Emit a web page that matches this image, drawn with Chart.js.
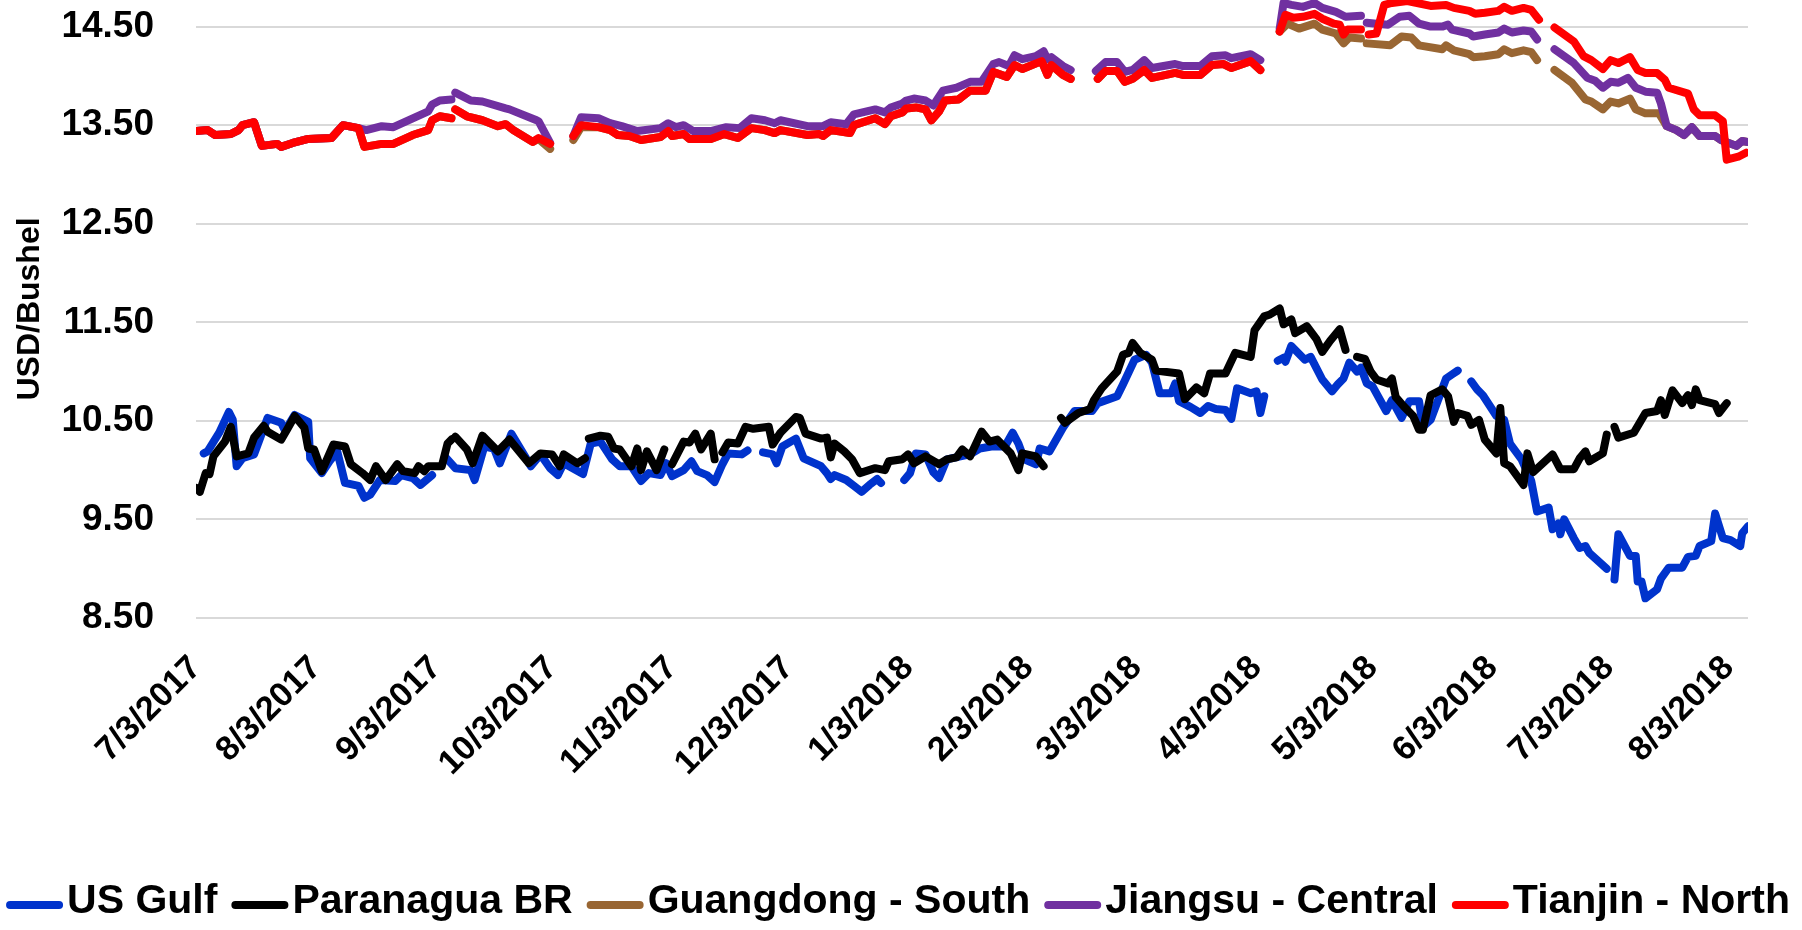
<!DOCTYPE html>
<html>
<head>
<meta charset="utf-8">
<script src="https://cdn.jsdelivr.net/npm/chart.js"></script>
<style>
html,body{margin:0;padding:0;background:#fff;overflow:hidden;}
canvas{display:block;}
</style>
</head>
<body>
<canvas id="c" width="1802" height="930"></canvas>
<script>
// x values are days since 7/3/2017; null marks a gap in the series
const tickDays = [0,31,62,92,123,153,184,215,243,274,304,335,365,396];
const tickLabels = ['7/3/2017','8/3/2017','9/3/2017','10/3/2017','11/3/2017','12/3/2017','1/3/2018','2/3/2018','3/3/2018','4/3/2018','5/3/2018','6/3/2018','7/3/2018','8/3/2018'];
const yTicks = [8.5,9.5,10.5,11.5,12.5,13.5,14.5];

const usGulfDays = [
 2,3,6,8.5,9.5,10.5,12,15,18.5,22,
 23,25.5,29,29.5,32.5,34.5,36.5,38.5,42,43.5,
 45,47.5,51.5,53,56,58,61,63,64.5,67,
 71,72,74.5,77,78.5,81.5,85,86.5,89,91.5,
 93.5,95,100,102,104.5,107.5,109.5,112.5,115,117,
 120,121.5,123,126,128,129.5,132,134,136,137.5,
 141,142.5,144.5,146.5,149,150,151.5,155,157,161.5,
 163,164,165,168,170,172,174,176,177,180,
 183,184.5,186,188.5,190.5,192,194,197.5,200,202.5,
 205.5,209,211,212.5,214,217,218,220.5,224,227,
 231.5,233,238,239.5,242.5,245.5,247,249,252,253,
 254,257,259.5,261.5,263.5,266,267.5,269,272.5,274,
 275,276,277.5,279.5,281,281.5,283,286.5,288,291,
 293.5,295,296.5,298,300,301,302.5,304,307.5,309,
 311.5,313.5,316,317,319,323,324.5,326,327.5,329.5,
 331,332.5,336,338,339.5,342.5,345,346.5,349.5,350.5,
 352,352.5,353.5,356,357.5,359,360,364.5,365.5,366.5,
 367.5,370.5,372,372.5,373.5,374.5,377.5,378.5,380.5,384,
 385.5,387.5,388.5,391.5,392.5,394.5,396.5,399,399.5,401];
const usGulfValues = [
 10.17,10.19,10.38,10.59,10.51,10.04,10.12,10.16,10.53,10.48,
 10.40,10.56,10.49,10.12,9.97,10.09,10.19,9.87,9.84,9.72,
 9.75,9.90,9.89,9.95,9.92,9.85,9.95,null,10.13,10.02,
 10.00,9.90,10.24,10.22,10.07,10.37,10.14,10.04,10.16,10.02,
 9.95,10.07,9.96,10.27,10.29,10.11,10.04,10.04,9.89,9.97,
 9.95,10.07,9.94,10.00,10.09,9.99,9.95,9.88,10.06,10.17,
 10.16,10.20,null,10.18,10.16,10.07,10.24,10.32,10.12,10.04,
 9.97,9.91,9.95,9.90,9.84,9.78,9.85,9.91,9.87,null,
 9.90,9.97,10.17,10.16,9.98,9.92,10.11,10.14,10.16,10.22,
 10.24,10.24,10.38,10.27,10.11,10.06,10.22,10.19,10.43,10.60,
 10.60,10.68,10.75,10.87,11.12,11.17,11.09,10.78,10.78,10.88,
 10.70,10.64,10.58,10.65,10.62,10.61,10.52,10.83,10.78,10.80,
 10.58,10.75,null,11.11,11.14,11.10,11.26,11.12,11.15,10.92,
 10.80,10.87,10.93,11.09,11.00,11.04,10.88,10.85,10.60,10.71,
 10.53,10.70,10.70,10.44,10.51,10.93,10.97,11.01,null,10.90,
 10.82,10.76,10.55,10.51,10.27,10.11,9.89,9.58,9.62,9.40,
 9.46,9.35,9.50,9.31,9.21,9.23,9.16,9.00,null,8.89,
 9.35,9.13,9.13,8.87,8.87,8.70,8.79,8.90,9.01,9.01,
 9.12,9.13,9.23,9.28,9.56,9.31,9.29,9.23,9.36,9.43];

const paranaguaDays = [
 0,1,2.5,3.5,4.5,7.5,9,10.5,13.5,15,
 17.5,18.5,22,23.5,25.5,28,29,30.5,32.5,35.5,
 38.5,40,43,45,46.5,49,52,53.5,56.5,57.5,
 59,60,63.5,65,66,66.5,67,70,71.5,74,
 78,81,86,89,92,94,95,98.5,100.5,101,
 101.5,104.5,106.5,108,109.5,112.5,114,115,116.5,119,
 121,122,123,126,127.5,129,130.5,133,134,135,
 136,137.5,140,142,144,148,149,151,155,156,
 157.5,161.5,163,164,165,167.5,169.5,171.5,175.5,178,
 179,182.5,184,185.5,188.5,192,194,196.5,198,200,
 203,205,207,210.5,212.5,213.5,217,219,221,223.5,
 224.5,228,231,232,234,238,239.5,241,242,244,
 247,248,254,255.5,258.5,260.5,262,266,268.5,272.5,
 273.5,276,277.5,280,281,283,284,287,289.5,291,
 293,295.5,297,298.5,300,302,303.5,305,308,309,
 310,312,314.5,316,317,319,322,323.5,325,326,
 328.5,329.5,331.5,333,336,337,338,339.5,343,344,
 345.5,350.5,352.5,356,357.5,359,360,363.5,364.5,365.5,
 366.5,367.5,371.5,374.5,377.5,378.5,379.5,381.5,384,385.5,
 386.5,387.5,388.5,392.5,393.5,394.5,395.5];
const paranaguaValues = [
 9.82,9.78,9.97,9.96,10.14,10.29,10.44,10.14,10.17,10.33,
 10.45,10.39,10.31,10.41,10.55,10.43,10.22,10.21,9.99,10.26,
 10.24,10.06,9.97,9.90,10.04,9.90,10.06,9.99,9.97,10.04,
 9.99,10.04,10.04,10.27,10.31,null,10.34,10.21,10.07,10.35,
 10.19,10.31,10.07,10.17,10.16,10.04,10.16,10.07,10.12,null,
 10.32,10.35,10.34,10.22,10.21,10.04,10.22,10.00,10.19,10.00,
 10.21,null,10.06,10.29,10.28,10.37,10.21,10.37,10.11,null,
 10.18,10.28,10.27,10.44,10.42,10.44,10.26,10.38,10.54,10.53,
 10.37,10.32,10.33,10.13,10.27,10.19,10.11,9.97,10.02,10.00,
 10.09,10.11,10.16,10.07,10.14,10.06,10.11,10.13,10.21,10.14,
 10.39,10.29,10.31,10.17,10.00,10.17,10.14,10.04,null,10.53,
 10.48,10.58,10.62,10.71,10.83,11.00,11.17,11.19,11.29,11.19,
 11.12,11.01,10.98,10.72,10.84,10.78,10.98,10.98,11.19,11.15,
 11.42,11.56,11.58,11.64,11.48,11.53,11.39,11.46,11.33,11.20,
 11.31,11.43,11.22,null,11.15,11.13,11.00,10.92,10.88,10.93,
 10.74,10.65,10.55,10.41,10.41,10.76,10.82,10.75,10.49,10.58,
 10.55,10.46,10.51,10.31,10.17,10.63,10.07,10.04,9.85,10.17,
 9.98,10.16,10.01,10.01,10.12,10.19,10.09,10.17,10.36,null,
 10.44,10.33,10.38,10.58,10.60,10.71,10.56,10.81,10.68,10.76,
 10.66,10.82,10.71,10.67,10.58,10.63,10.68];

const guangdongDays = [
 0,3,5,9,11,12,15,17,21,22,
 25,29,35,38,42,43.5,48,51,56,60,
 61,63,66,66.5,67,70,74,78,80,82,
 87,88.5,91.5,94,97.5,99.5,104,107,109,112,
 115,120,122,123,126,127.5,133,136.5,140,143.5,
 147,149.5,151,158,161,162,164,169,170,175.5,
 178,179.5,182.5,183.5,186,188.5,190,192,193.5,197,
 200,204,206,209.5,211.5,213.5,218.5,220,221,224,
 226,229,233,235,238,240,242,245,247,253,
 255,259.5,262.5,265.5,267.5,272.5,275,277,280,282,
 285,289,291,294.5,296.5,298,301,302,302.5,308.5,
 311.5,314,316,322,323,325,329,330,333,336.5,
 338,340,343,345,346.5,349,351,355.5,359,360.5,
 363.5,365.5,367.5,370.5,372,374.5,378,380,382.5,384.5,
 386.5,388.5,392.5,394,398,399.5,401];
const guangdongValues = [
 13.44,13.45,13.40,13.41,13.45,13.50,13.53,13.29,13.31,13.28,
 13.32,13.36,13.37,13.50,13.47,13.28,13.31,13.31,13.40,13.45,
 13.55,13.59,13.57,null,13.66,13.59,13.55,13.49,13.51,13.45,
 13.33,13.36,13.26,null,13.35,13.48,13.48,13.45,13.40,13.39,
 13.35,13.38,13.44,13.39,13.41,13.36,13.36,13.41,13.37,13.47,
 13.45,13.42,13.45,13.40,13.41,13.39,13.45,13.42,13.50,13.57,
 13.51,13.59,13.63,13.67,13.68,13.66,13.55,13.64,13.75,13.76,
 13.85,13.85,14.04,13.99,14.11,14.07,14.15,14.01,14.11,14.01,
 13.97,null,13.97,14.05,14.05,13.94,13.97,14.06,13.98,14.03,
 14.01,14.01,14.11,14.12,14.08,14.15,14.06,null,14.45,14.53,
 14.48,14.53,14.47,14.43,14.33,14.39,14.38,null,14.33,14.31,
 14.40,14.39,14.31,14.27,14.31,14.26,14.22,14.19,14.20,14.22,
 14.27,14.23,14.26,14.24,14.16,null,14.06,13.93,13.76,13.74,
 13.66,13.74,13.72,13.77,13.66,13.62,13.62,13.49,13.45,13.40,
 13.48,13.39,13.39,13.35,13.29,13.34,13.33];

const jiangsuDays = [
 0,3,5,9,11,12,15,17,21,22,
 25,29,35,38,42,44,48,51,56,60,
 61,63,66,66.5,67,71,74,80,81,88,
 88.5,91.5,94,97.5,99.5,104,107,110,114,120,
 122,124,126,128.5,133,137,140.5,143.5,147,149.5,
 151,158,162,164,168,170,175.5,178,179.5,182.5,
 183.5,185.5,188.5,190.5,193,196.5,200,203,206,207.5,
 210,211.5,213.5,217,219,220,221,224,226,229,
 232.5,235,238,240,242,245,247,253,255,259.5,
 262.5,266,267.5,272.5,275,277,280,281,283,286,
 289,291,294.5,297,301,302,302.5,305,308,311,
 313.5,316,319,322,323.5,324.5,329,330,333,336.5,
 338,340,343,345,346.5,349,351,356,359.5,361.5,
 363.5,365.5,367.5,370,372,374.5,377.5,378.5,380,382.5,
 384.5,386.5,388.5,392.5,394,398,399.5,401];
const jiangsuValues = [
 13.44,13.45,13.40,13.41,13.45,13.50,13.53,13.29,13.31,13.28,
 13.32,13.36,13.37,13.50,13.47,13.45,13.49,13.48,13.57,13.64,
 13.71,13.75,13.76,null,13.83,13.75,13.74,13.67,13.66,13.55,
 13.54,13.32,null,13.39,13.58,13.57,13.52,13.49,13.44,13.47,
 13.52,13.48,13.50,13.44,13.44,13.48,13.47,13.57,13.55,13.52,
 13.55,13.49,13.49,13.53,13.51,13.61,13.66,13.63,13.68,13.72,
 13.75,13.77,13.75,13.70,13.85,13.88,13.94,13.94,14.12,14.14,
 14.10,14.21,14.17,14.20,14.25,14.17,14.19,14.10,14.06,null,
 14.05,14.14,14.14,14.04,14.06,14.16,14.08,14.12,14.10,14.10,
 14.20,14.21,14.18,14.22,14.16,null,14.48,14.74,14.72,14.70,
 14.74,14.69,14.65,14.60,14.61,null,14.54,14.53,14.52,14.60,
 14.61,14.53,14.50,14.50,14.52,14.47,14.43,14.40,14.42,14.44,
 14.48,14.44,14.46,14.45,14.37,null,14.27,14.13,13.98,13.95,
 13.88,13.94,13.93,13.98,13.88,13.84,13.83,13.72,13.49,13.45,
 13.40,13.48,13.39,13.39,13.35,13.29,13.34,13.33];

const tianjinDays = [
 0,3,5,9,11,12,15,17,21,22,
 25,29,35,38,42,43.5,48,51,56,60,
 61,63,66,66.5,67,70,74,78,80,82,
 87,88.5,91.5,94,97.5,99.5,104,107,109,112,
 115,120,122,123,126,127.5,133,136.5,140,143.5,
 147,149.5,151,158,161,162,164,169,170,175.5,
 178,179.5,182.5,183.5,186,188.5,190,192,193.5,197,
 200,204,206,209.5,211.5,213.5,218.5,220,221,224,
 226,229,233,235,238,240,242,245,247,253,
 255,259.5,262.5,265.5,267.5,272.5,275,277,280,281.5,
 283.5,286,289,291,294,295.5,296.5,297.5,301,302,
 303,305,307,309,313,315.5,319,323,325,329,
 330.5,333,336.5,338,340,343,345,347,349,351,
 356,358.5,360.5,363.5,365.5,367.5,370.5,372.5,374.5,377.5,
 379.5,380.5,385.5,387,388.5,392.5,394.5,395.5,398.5,400.5];
const tianjinValues = [
 13.44,13.45,13.40,13.41,13.45,13.50,13.53,13.29,13.31,13.28,
 13.32,13.36,13.37,13.50,13.47,13.28,13.31,13.31,13.40,13.45,
 13.55,13.59,13.57,null,13.66,13.59,13.55,13.49,13.51,13.45,
 13.33,13.37,13.31,null,13.39,13.50,13.48,13.45,13.40,13.39,
 13.35,13.38,13.44,13.39,13.41,13.36,13.36,13.41,13.37,13.47,
 13.45,13.42,13.45,13.40,13.41,13.39,13.45,13.42,13.50,13.57,
 13.51,13.59,13.63,13.67,13.68,13.66,13.55,13.64,13.75,13.76,
 13.85,13.85,14.04,13.99,14.11,14.07,14.15,14.01,14.11,14.01,
 13.97,null,13.97,14.05,14.05,13.94,13.97,14.06,13.98,14.03,
 14.01,14.01,14.11,14.12,14.08,14.15,14.06,null,14.45,14.62,
 14.59,14.60,14.63,14.58,14.53,14.52,14.42,14.47,14.47,null,
 14.42,14.43,14.72,14.74,14.76,14.74,14.71,14.72,14.69,14.66,
 14.63,14.64,14.66,14.70,14.66,14.69,14.67,14.57,null,14.49,
 14.35,14.20,14.16,14.07,14.16,14.13,14.19,14.06,14.03,14.03,
 13.96,13.88,13.82,13.66,13.60,13.60,13.54,13.15,13.18,13.22];

const seriesNames = ['US Gulf','Paranagua BR','Guangdong - South','Jiangsu - Central','Tianjin - North'];
const seriesColors = ['#0033CC','#000000','#996633','#7030A0','#FF0000'];
const seriesDays = [usGulfDays, paranaguaDays, guangdongDays, jiangsuDays, tianjinDays];
const seriesValues = [usGulfValues, paranaguaValues, guangdongValues, jiangsuValues, tianjinValues];

seriesDays.forEach((d,i)=>{ if (d.length !== seriesValues[i].length) console.error('length mismatch', seriesNames[i], d.length, seriesValues[i].length); });

const FONT = "'Liberation Sans', Arial, sans-serif";
Chart.defaults.font.family = FONT;
Chart.defaults.font.weight = 'bold';
Chart.defaults.color = '#000';

const datasets = seriesNames.map((name, i) => ({
  label: name,
  data: seriesDays[i].map((d, k) => ({x: d, y: seriesValues[i][k]})),
  borderColor: seriesColors[i],
  backgroundColor: seriesColors[i],
  borderWidth: 8,
  pointRadius: 0,
  pointHoverRadius: 0,
  tension: 0,
  spanGaps: false,
  borderJoinStyle: 'round',
  borderCapStyle: 'round',
  order: seriesNames.length - i
}));

// Legend drawn below the axis: line swatch, label, in dataset order
const lineLegend = {
  id: 'lineLegend',
  afterDraw(chart) {
    const ctx = chart.ctx;
    const sw = 57, gapText = 4, gapItem = 14, yText = 902, yLine = 905;
    ctx.save();
    ctx.font = 'bold 41px ' + FONT;
    const dsList = chart.data.datasets;
    const widths = dsList.map(ds => ctx.measureText(ds.label).width);
    const total = widths.reduce((a, w) => a + sw + gapText + w, 0) + gapItem * (widths.length - 1);
    let x = (chart.width - total) / 2 - 3;
    dsList.forEach((ds, i) => {
      ctx.strokeStyle = ds.borderColor;
      ctx.lineWidth = 8;
      ctx.lineCap = 'round';
      ctx.beginPath();
      ctx.moveTo(x + 4, yLine);
      ctx.lineTo(x + sw - 4, yLine);
      ctx.stroke();
      x += sw + gapText;
      ctx.fillStyle = '#000';
      ctx.textBaseline = 'middle';
      ctx.textAlign = 'left';
      ctx.fillText(ds.label, x, yText);
      x += widths[i] + gapItem;
    });
    ctx.restore();
  }
};

new Chart(document.getElementById('c'), {
  type: 'line',
  data: { datasets },
  plugins: [lineLegend],
  options: {
    responsive: false,
    animation: false,
    events: [],
    layout: { padding: { top: 0, left: 0, right: 0, bottom: 57 } },
    plugins: {
      tooltip: { enabled: false },
      legend: { display: false }
    },
    scales: {
      x: {
        type: 'linear',
        min: 0,
        max: 401,
        afterBuildTicks(s) { s.ticks = tickDays.map(v => ({ value: v })); },
        afterFit(s) { s.height = 255; s.paddingLeft = 0; s.paddingRight = 0; },
        grid: { display: false, drawTicks: false },
        border: { display: false },
        ticks: {
          autoSkip: false,
          minRotation: 45,
          maxRotation: 45,
          padding: 30,
          labelOffset: 0,
          color: '#000',
          font: { size: 34, weight: 'bold' },
          callback: (v, i) => tickLabels[i]
        }
      },
      y: {
        type: 'linear',
        position: 'left',
        min: 8.5,
        max: 14.77,
        afterBuildTicks(s) { s.ticks = yTicks.map(v => ({ value: v })); },
        afterFit(s) { s.width = 196; s.paddingTop = 0; s.paddingBottom = 0; },
        grid: { color: '#d9d9d9', lineWidth: 2, drawTicks: false },
        border: { display: false },
        ticks: {
          padding: 42,
          color: '#000',
          font: { size: 37, weight: 'bold' },
          callback: v => v.toFixed(2)
        },
        title: {
          display: true,
          text: 'USD/Bushel',
          color: '#000',
          font: { size: 32, weight: 'bold' },
          padding: { top: 11, bottom: 0 }
        }
      },
      yRight: {
        type: 'linear',
        position: 'right',
        display: true,
        grid: { display: false, drawTicks: false },
        border: { display: false },
        ticks: { display: false },
        afterFit(s) { s.width = 54; s.paddingTop = 0; s.paddingBottom = 0; }
      }
    }
  }
});
</script>
</body>
</html>
